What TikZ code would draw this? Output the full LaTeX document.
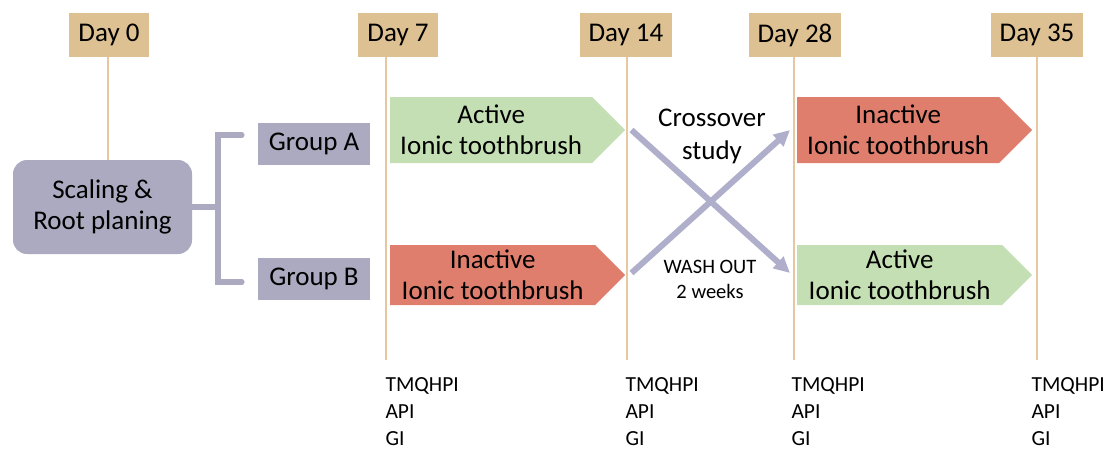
\documentclass[tikz,border=0pt]{standalone}
\usepackage{fontspec}
\setmainfont{Carlito}
\usetikzlibrary{shapes.symbols,arrows.meta}

\definecolor{daytan}{HTML}{DEC192}
\definecolor{daystem}{HTML}{E6C8A0}
\definecolor{groupgray}{HTML}{ABAAC0}
\definecolor{crossgray}{HTML}{B0AFCB}
\definecolor{activegreen}{HTML}{C5DFB4}
\definecolor{inactivered}{HTML}{E07E6E}

\newcommand{\bigtxt}{\fontsize{27}{31}\selectfont}

\begin{document}
\begin{tikzpicture}[x=1pt,y=-1pt,
    daybox/.style={fill=daytan, minimum height=44pt, inner xsep=9pt, font=\bigtxt},
    stem/.style={draw=daystem, line width=2.5pt},
    groupbox/.style={fill=groupgray, minimum width=112pt, minimum height=42pt, font=\bigtxt},
    brush/.style={signal, signal to=east, signal from=nowhere, minimum width=235pt,
                  anchor=west, align=center, inner sep=0pt, font=\bigtxt},
    bracket/.style={draw=groupgray, line width=5.5pt, line cap=round},
    cross/.style={draw=crossgray, line width=6pt, -{Triangle[length=16pt,width=15pt]}},
    measure/.style={anchor=west, align=left, font=\fontsize{21.5}{27}\selectfont}]
    \useasboundingbox (0,0) rectangle (1115,452);

    % time points
    \node[daybox] (d0) at (109,35) {Day 0};
    \node[daybox] (d7) at (398,35) {Day 7};
    \node[daybox] (d14) at (626,35) {Day 14};
    \node[daybox] (d28) at (795,35) {Day 28};
    \node[daybox] (d35) at (1037,35) {Day 35};
    \coordinate (e7) at (386,360);
    \coordinate (e14) at (627,360);
    \coordinate (e28) at (794,360);
    \coordinate (e35) at (1037,360);

    % groups
    \node[groupbox, minimum width=179pt, minimum height=94pt, rounded corners=14pt,
          align=center] (srp) at (102.5,207) {Scaling \&\\Root planing};
    \node[groupbox] (gA) at (314,144) {Group A};
    \node[groupbox] (gB) at (314,279) {Group B};
    \coordinate (brk) at (218,207);

    \draw[stem] (d0.south -| 108,0) -- (srp.north -| 108,0);
    \draw[stem] (d7.south -| e7) -- (e7);
    \draw[stem] (d14.south -| e14) -- (e14);
    \draw[stem] (d28.south -| e28) -- (e28);
    \draw[stem] (d35.south -| e35) -- (e35);

    \draw[bracket] (srp.east) -- (brk);
    \draw[bracket] ([xshift=-16pt,yshift=9pt]gA.west) -| (brk) |- ([xshift=-16pt,yshift=-3pt]gB.west);

    % toothbrush periods
    \node[brush, fill=activegreen, minimum height=66pt] (tA) at (390,130) {Active\\Ionic toothbrush};
    \node[brush, fill=inactivered, minimum height=60pt] (tB) at (390,275) {Inactive\\Ionic toothbrush};
    \node[brush, fill=inactivered, minimum height=66pt] (rA) at (797,130) {Inactive\\Ionic toothbrush};
    \node[brush, fill=activegreen, minimum height=60pt] (rB) at (797,275) {Active\\Ionic toothbrush};

    % crossover
    \draw[cross] ([xshift=6pt]tA.east) -- ([xshift=-7pt,yshift=2pt]rB.west);
    \draw[cross] ([xshift=6pt,yshift=2pt]tB.east) -- ([xshift=-7pt]rA.west);
    \node[align=center, font=\fontsize{27}{33}\selectfont] (xo) at (712,136) {Crossover\\study};
    \node[align=center, font=\fontsize{20.5}{25}\selectfont] (wo) at (710,279) {WASH OUT\\2 weeks};

    % indices
    \node[measure] (m7) at (382,412) {TMQHPI\\API\\GI};
    \node[measure] (m14) at (622,412) {TMQHPI\\API\\GI};
    \node[measure] (m28) at (788,412) {TMQHPI\\API\\GI};
    \node[measure] (m35) at (1028,412) {TMQHPI\\API\\GI};
\end{tikzpicture}
\end{document}
